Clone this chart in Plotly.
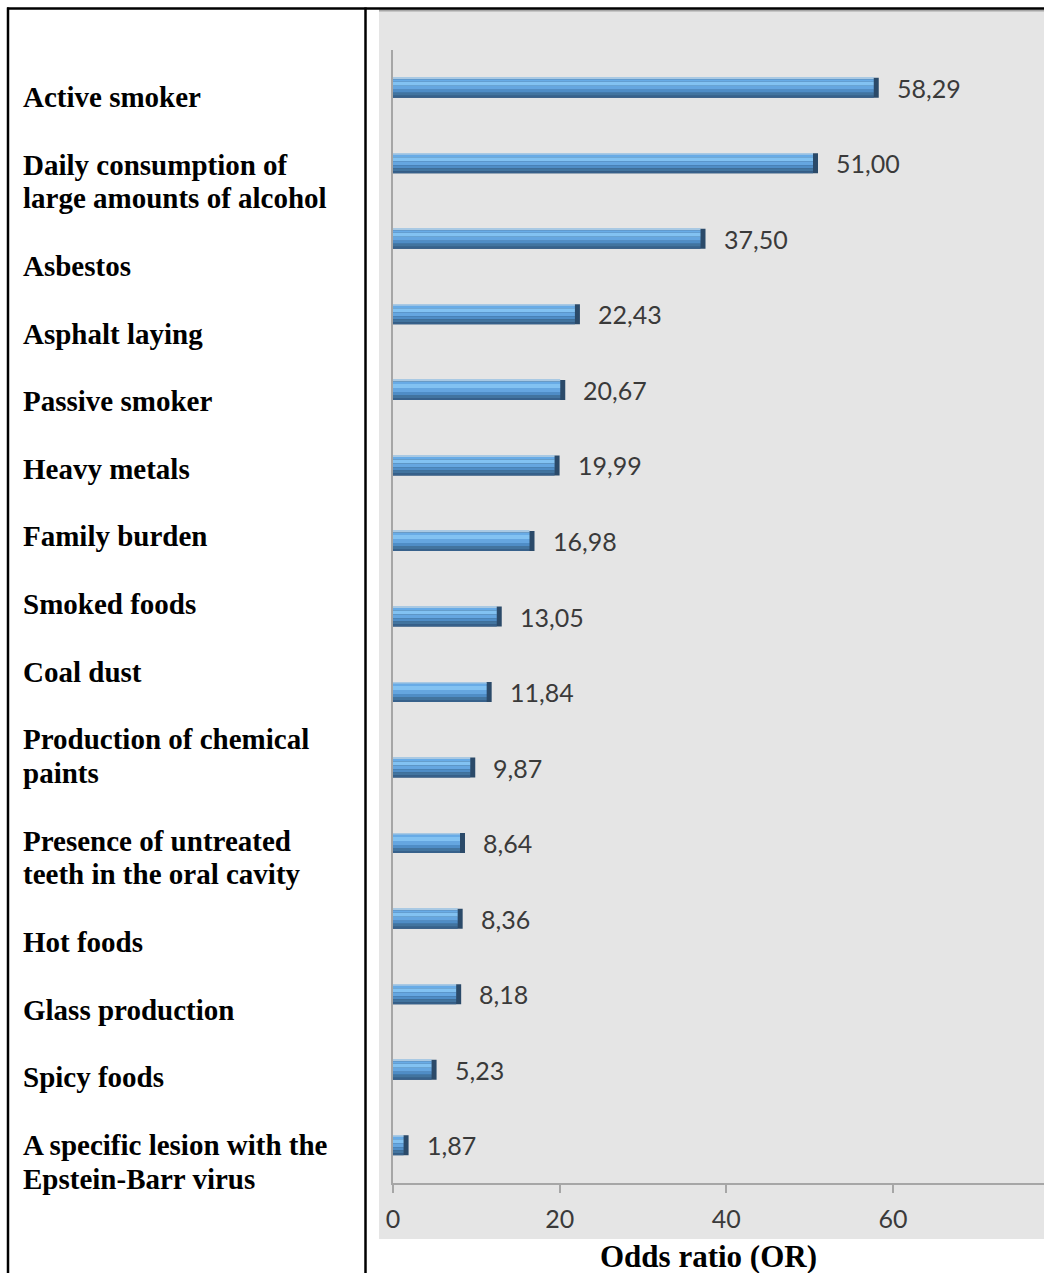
import plotly.graph_objects as go

# Risk factors, top to bottom, with their odds ratios
factors = [
    "Active smoker",
    "Daily consumption of<br>large amounts of alcohol",
    "Asbestos",
    "Asphalt laying",
    "Passive smoker",
    "Heavy metals",
    "Family burden",
    "Smoked foods",
    "Coal dust",
    "Production of chemical<br>paints",
    "Presence of untreated<br>teeth in the oral cavity",
    "Hot foods",
    "Glass production",
    "Spicy foods",
    "A specific lesion with the<br>Epstein-Barr virus",
]
odds_ratios = [58.29, 51.00, 37.50, 22.43, 20.67, 19.99, 16.98, 13.05,
               11.84, 9.87, 8.64, 8.36, 8.18, 5.23, 1.87]
x_ticks = [0, 20, 40, 60]
x_title = "Odds ratio (OR)"

W, H = 1044, 1273
L, R, T, B = 393, 0, 50, 90
plot_w = W - L - R
plot_h = H - T - B
x_max = 78.12


def px(x):
    """Page pixel column -> paper x."""
    return (x - L) / plot_w


def py(y):
    """Page pixel row (from top) -> paper y."""
    return (H - B - y) / plot_h


keys = [str(i) for i in range(len(factors))]
band_px = plot_h / len(factors)
u = 1.0 / band_px            # one pixel in category units
end_cap = 5 / (plot_w / x_max)  # dark end face of each bar, in data units

fig = go.Figure()

# bevelled bars: a dark end face, then horizontal shading strips
# (top px, bottom px, colour) measured from the bar's upper edge
strips = [
    (0, 1.5, "#a9c9e3"),
    (1.5, 4, "#68abe6"),
    (4, 8, "#82c2f2"),
    (8, 12, "#65a6e0"),
    (12, 15, "#4f8dc6"),
    (15, 18, "#42749f"),
    (18, 20, "#37618b"),
]
half = 10
fig.add_trace(go.Bar(
    y=keys, x=odds_ratios, orientation="h",
    width=2 * half * u, offset=-half * u,
    marker=dict(color="#2b4a69", line=dict(width=0)),
    hoverinfo="skip", showlegend=False,
))
short = [max(v - end_cap, 0) for v in odds_ratios]
for top, bot, col in strips:
    fig.add_trace(go.Bar(
        y=keys, x=short, orientation="h",
        width=(bot - top) * u, offset=(top - half) * u,
        marker=dict(color=col, line=dict(width=0)),
        hoverinfo="skip", showlegend=False,
    ))

annotations = []
# value labels
for k, v in zip(keys, odds_ratios):
    annotations.append(dict(
        x=v, y=k, xref="x", yref="y", xanchor="left", yanchor="middle",
        xshift=16, yshift=0, showarrow=False,
        text=f"{v:.2f}".replace(".", ","),
        font=dict(family="Lato", size=25, color="#3a3a3a"),
    ))

# factor names in the left table column, one annotation per text line
row_top = 64.2
line_h = 33.8
for name in factors:
    lines = name.split("<br>")
    n = len(lines)
    h = line_h * (n + 1)
    first = row_top + h / 2 - line_h * (n - 1) / 2
    for i, line in enumerate(lines):
        annotations.append(dict(
            x=px(21), y=py(first + i * line_h - 1), xref="paper", yref="paper",
            xanchor="left", yanchor="middle", align="left", showarrow=False,
            text=f"<b>{line}</b>",
            font=dict(family="Liberation Serif", size=29, color="#000000"),
        ))
    row_top += h

annotations.append(dict(
    x=px(708), y=py(1256), xref="paper", yref="paper",
    xanchor="center", yanchor="middle", showarrow=False,
    text=f"<b>{x_title}</b>",
    font=dict(family="Liberation Serif", size=31, color="#000000"),
))

shapes = [
    # grey chart panel
    dict(type="rect", xref="paper", yref="paper", layer="below",
         x0=px(379), x1=px(W), y0=py(1239), y1=py(10),
         fillcolor="#e5e5e5", line=dict(width=0)),
    dict(type="line", xref="paper", yref="paper",
         x0=px(379), x1=px(W), y0=py(10.5), y1=py(10.5),
         line=dict(color="#a6a6a6", width=2)),
    # table borders
    dict(type="line", xref="paper", yref="paper",
         x0=px(7), x1=px(W), y0=py(8.5), y1=py(8.5),
         line=dict(color="#000000", width=2.5)),
    dict(type="line", xref="paper", yref="paper",
         x0=px(8), x1=px(8), y0=py(7.5), y1=py(H),
         line=dict(color="#000000", width=2.5)),
    dict(type="line", xref="paper", yref="paper",
         x0=px(365.5), x1=px(365.5), y0=py(7.5), y1=py(H),
         line=dict(color="#000000", width=2.5)),
]

fig.update_layout(
    width=W, height=H,
    margin=dict(l=L, r=R, t=T, b=B, pad=0),
    paper_bgcolor="#ffffff",
    plot_bgcolor="#e5e5e5",
    barmode="overlay",
    showlegend=False,
    annotations=annotations,
    shapes=shapes,
    xaxis=dict(
        range=[0, x_max], tickvals=x_ticks, ticktext=[str(t) for t in x_ticks],
        showgrid=False, zeroline=False,
        showline=True, linecolor="#a6a6a6", linewidth=2,
        ticks="outside", ticklen=8, tickwidth=2, tickcolor="#a6a6a6",
        ticklabelstandoff=5,
        tickfont=dict(family="Lato", size=25, color="#3a3a3a"),
        fixedrange=True,
    ),
    yaxis=dict(
        type="category", categoryorder="array", categoryarray=keys,
        range=[len(keys) - 0.5, -0.5],
        showticklabels=False, showgrid=False, zeroline=False,
        showline=True, linecolor="#a6a6a6", linewidth=2, ticks="",
        fixedrange=True,
    ),
)

fig.write_html("out.html", config={"displayModeBar": False})
